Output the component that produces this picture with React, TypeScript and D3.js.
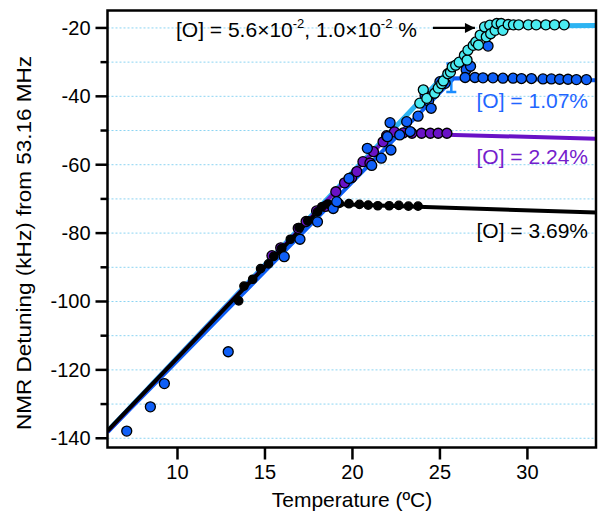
import React from "react";
import * as d3 from "d3";

const W = 599;
const H = 512;

// ---- data (temperature °C, detuning kHz) ----
const cyanPts: [number, number][] = [
  [23.85, -42.0], [24.05, -38.1], [24.25, -40.6], [24.7, -39.1], [24.9, -37.6], [25.1, -36.3],
  [25.2, -35.5], [25.45, -33.4], [25.6, -32.9], [25.7, -31.4], [25.9, -30.9], [26.1, -30.0],
  [26.4, -28.0], [26.55, -29.4], [26.6, -26.5], [26.9, -25.1], [27.05, -24.1], [27.2, -25.0],
  [27.3, -22.1], [27.55, -19.7], [27.65, -22.6], [27.85, -19.2], [27.9, -21.7], [28.15, -20.7],
  [28.25, -18.7], [28.5, -18.7], [28.6, -20.7], [28.9, -19.0], [29.2, -19.1], [29.5, -19.1],
  [30.05, -19.1], [30.5, -19.1], [31.05, -19.1], [31.55, -19.1], [32.1, -19.1],
];

const bluePts: [number, number][] = [
  [7.1, -137.9], [8.45, -130.8], [9.25, -124.0], [12.9, -114.7], [16.1, -86.9], [17.0, -81.8],
  [18.0, -76.7], [18.9, -72.8], [19.1, -70.8], [19.8, -64.0], [20.85, -55.2], [21.1, -60.2],
  [21.65, -58.1], [22.0, -51.8], [22.15, -47.7], [22.2, -55.7], [22.7, -51.3], [23.1, -47.4],
  [23.3, -50.3], [23.75, -45.8], [24.15, -39.7], [24.35, -41.4], [24.5, -43.5], [25.0, -35.7],
  [25.3, -36.2], [26.5, -32.2], [26.75, -31.2], [27.75, -25.3],
  [26.44, -34.5], [27.0, -34.5], [27.46, -34.6], [28.03, -34.6], [28.6, -34.7], [29.18, -34.7],
  [29.66, -34.8], [30.23, -34.8], [30.89, -34.9], [31.37, -34.9], [31.84, -35.0], [32.32, -35.0],
  [32.8, -35.1], [33.37, -35.1],
];

const purplePts: [number, number][] = [
  [15.4, -86.6], [15.9, -84.3], [16.9, -78.6], [17.35, -76.6], [17.95, -73.5], [18.45, -72.2],
  [19.05, -67.9], [19.55, -65.3], [19.95, -63.8], [20.25, -62.0], [20.6, -59.1], [21.0, -59.5],
  [21.2, -56.2], [21.75, -53.3], [21.95, -51.5], [22.4, -50.4], [22.9, -50.7], [23.4, -50.8],
  [23.95, -50.8], [24.45, -50.8], [24.9, -50.8], [25.4, -50.8],
];

const blackPts: [number, number][] = [
  [13.5, -99.8], [13.8, -95.5], [14.3, -93.5], [14.75, -90.4], [15.2, -89.0], [15.5, -86.8],
  [15.95, -84.5], [16.45, -81.8], [16.95, -78.4], [17.45, -76.4], [18.0, -73.8], [18.25, -72.3],
  [18.6, -71.5], [19.25, -71.3], [19.8, -71.4], [20.4, -71.6], [20.9, -71.8], [21.45, -72.0],
  [22.1, -72.0], [22.65, -71.9], [23.2, -72.1], [23.75, -72.1],
];

// fit lines (piecewise linear)
const cyanFit: [number, number][] = [[6, -138.0], [27.9, -19.5], [34, -19.3]];
const blueFit: [number, number][] = [[6, -138.2], [25.8, -34.7], [34, -35.3]];
const purpleFit: [number, number][] = [[6, -138.0], [22.2, -50.8], [34, -52.4]];
const blackFit: [number, number][] = [[6, -137.8], [18.45, -71.4], [34, -74.0]];

const errBar = { x: 25.65, lo: -38.7, hi: -30.4 };

const xTicks = [10, 15, 20, 25, 30];
const yMajor = [-140, -120, -100, -80, -60, -40, -20];
const yMinor = [-130, -110, -90, -70, -50, -30];
const yGrid = [-140, -130, -120, -110, -100, -90, -80, -70, -60, -50, -40, -30, -20];

const FONT = "'Liberation Sans', Arial, Helvetica, sans-serif";

export default function App() {
  const left = 107.5, right = 596, top = 10.5, bottom = 447.5;
  const x = d3.scaleLinear().domain([6, 33.92]).range([left, right]);
  const y = d3.scaleLinear().domain([-142.7, -14.9]).range([bottom, top]);
  const line = d3.line<[number, number]>().x((d) => x(d[0])).y((d) => y(d[1]));

  const series = [
    { pts: purplePts, fill: "#6a12c6", r: 5, stroke: "#000" },
    { pts: blackPts, fill: "#000", r: 4.2, stroke: "#000" },
    { pts: bluePts, fill: "#0f5ff7", r: 5, stroke: "#000" },
    { pts: cyanPts, fill: "#4aeaf0", r: 5, stroke: "#000" },
  ];

  return (
    <svg width={W} height={H} style={{ position: "absolute", left: 0, top: 0 }} fontFamily={FONT}>
      <rect width={W} height={H} fill="#fff" />
      <defs>
        <clipPath id="plot">
          <rect x={left} y={top} width={right - left} height={bottom - top} />
        </clipPath>
        <marker id="arr" viewBox="0 0 10 10" refX="10" refY="5" markerWidth="13" markerHeight="10" orient="auto" markerUnits="userSpaceOnUse">
          <path d="M0,0 L10,5 L0,10 z" fill="#000" />
        </marker>
      </defs>
      {/* grid */}
      {yGrid.map((v) => (
        <line key={v} x1={left} x2={right} y1={y(v)} y2={y(v)} stroke="#8cd4f2" strokeWidth={1} strokeDasharray="2,2" />
      ))}
      <g clipPath="url(#plot)">
        <path d={line(cyanFit)!} fill="none" stroke="#2db4f2" strokeWidth={5} />
        <path d={line(blueFit)!} fill="none" stroke="#0d5ef5" strokeWidth={4} />
        <path d={line(purpleFit)!} fill="none" stroke="#6a12c6" strokeWidth={4} />
        <path d={line(blackFit)!} fill="none" stroke="#000" strokeWidth={4} />
        {/* error bar */}
        <g stroke="#1a8cff" strokeWidth={2.5}>
          <line x1={x(errBar.x)} x2={x(errBar.x)} y1={y(errBar.lo)} y2={y(errBar.hi)} />
          <line x1={x(errBar.x) - 5} x2={x(errBar.x) + 5} y1={y(errBar.lo)} y2={y(errBar.lo)} />
          <line x1={x(errBar.x) - 5} x2={x(errBar.x) + 5} y1={y(errBar.hi)} y2={y(errBar.hi)} />
        </g>
        {series.map((s, i) => (
          <g key={i}>
            {s.pts.map((p, j) => (
              <circle key={j} cx={x(p[0])} cy={y(p[1])} r={s.r} fill={s.fill} stroke={s.stroke} strokeWidth={1.3} />
            ))}
          </g>
        ))}
      </g>
      {/* frame */}
      <rect x={left} y={top} width={right - left} height={bottom - top} fill="none" stroke="#000" strokeWidth={2.5} />
      {/* y ticks */}
      {yMajor.map((v) => (
        <g key={v}>
          <line x1={left - 12} x2={left} y1={y(v)} y2={y(v)} stroke="#000" strokeWidth={2.5} />
          <text x={left - 17} y={y(v)} dy="0.35em" textAnchor="end" fontSize={20}>{v}</text>
        </g>
      ))}
      {yMinor.map((v) => (
        <line key={v} x1={left - 7} x2={left} y1={y(v)} y2={y(v)} stroke="#000" strokeWidth={2.5} />
      ))}
      {xTicks.map((v) => (
        <g key={v}>
          <line x1={x(v)} x2={x(v)} y1={bottom} y2={bottom + 12} stroke="#000" strokeWidth={2.5} />
          <text x={x(v)} y={479} textAnchor="middle" fontSize={20}>{v}</text>
        </g>
      ))}
      <text x={352} y={507} textAnchor="middle" fontSize={21}>Temperature (ºC)</text>
      <text transform="translate(31,243) rotate(-90)" textAnchor="middle" fontSize={21} textLength={374} lengthAdjust="spacingAndGlyphs">NMR Detuning (kHz) from 53.16 MHz</text>
      {/* annotations */}
      <text x={176} y={37} fontSize={21}>
        [O] = 5.6×10<tspan dy={-9} fontSize={13}>-2</tspan><tspan dy={9}>, 1.0×10</tspan><tspan dy={-9} fontSize={13}>-2</tspan><tspan dy={9}> %</tspan>
      </text>
      <line x1={x(24.6)} x2={x(27.0)} y1={y(-20)} y2={y(-20)} stroke="#000" strokeWidth={2.2} markerEnd="url(#arr)" />
      <text x={588} y={107.5} textAnchor="end" fontSize={21} fill="#1f66ff">[O] = 1.07%</text>
      <text x={588} y={164} textAnchor="end" fontSize={21} fill="#7420cc">[O] = 2.24%</text>
      <text x={588} y={237.5} textAnchor="end" fontSize={21} fill="#000">[O] = 3.69%</text>
    </svg>
  );
}
